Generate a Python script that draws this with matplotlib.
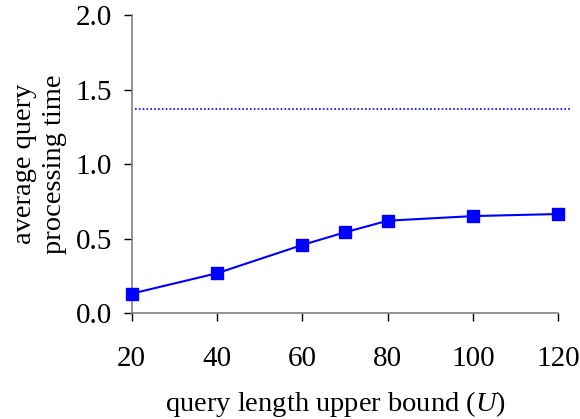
import matplotlib
matplotlib.use('Agg')
import matplotlib.pyplot as plt

plt.rcParams['font.family'] = ['Liberation Serif', 'DejaVu Serif']
plt.rcParams['mathtext.fontset'] = 'custom'
plt.rcParams['mathtext.it'] = 'Liberation Serif:italic'
plt.rcParams['mathtext.rm'] = 'Liberation Serif'

query_len = [20, 40, 60, 70, 80, 100, 120]
avg_time = [0.13, 0.267, 0.457, 0.542, 0.62, 0.651, 0.665]
baseline = 1.368
x_ticks = [20, 40, 60, 80, 100, 120]
y_ticks = [0.0, 0.5, 1.0, 1.5, 2.0]

fig = plt.figure(figsize=(5.8, 4.19), dpi=100)
ax = fig.add_axes([0.227, 0.253, 0.7356, 0.7105])

ax.plot(query_len, avg_time, color='#0000ff', lw=1.5, marker='s', ms=9,
        clip_on=False, zorder=3)
ax.plot([20.8, 122.7], [baseline, baseline], color='#0000ff', lw=1.2,
        ls=(0, (1, 1.3)), clip_on=False)

ax.set_xlim(20, 120)
ax.set_ylim(0, 2.0)
ax.set_xticks(x_ticks)
ax.set_yticks(y_ticks)
ax.set_yticklabels(['%.1f' % v for v in y_ticks])

for s in ['top', 'right']:
    ax.spines[s].set_visible(False)
for s in ['left', 'bottom']:
    ax.spines[s].set_color('#808080')
    ax.spines[s].set_linewidth(1.2)

ax.tick_params(direction='out', length=6, width=1, color='black',
               labelsize=21)
ax.tick_params(axis='y', pad=8)
ax.tick_params(axis='x', pad=18)
ax.set_xlabel('query length upper bound ($U$)', fontsize=20.5)
ax.xaxis.set_label_coords(0.477, -0.255)
ax.set_ylabel('average query\nprocessing time', fontsize=20.5, labelpad=6,
              linespacing=1.3)

fig.savefig('out.png', dpi=100)
